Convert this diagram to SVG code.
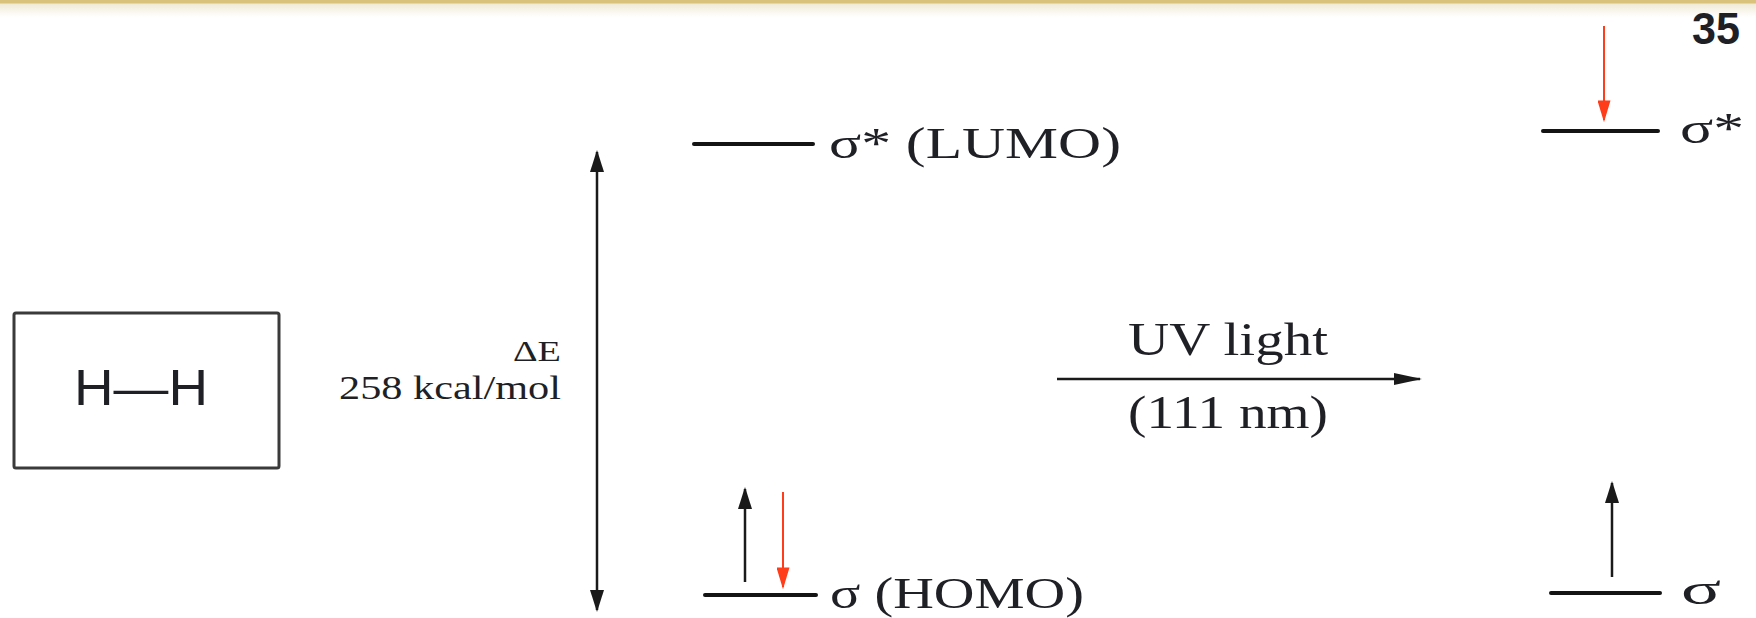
<svg xmlns="http://www.w3.org/2000/svg" width="1756" height="618" viewBox="0 0 1756 618">
  <defs>
    <linearGradient id="hdr" x1="0" y1="0" x2="0" y2="1">
      <stop offset="0" stop-color="#efe9d2"/>
      <stop offset="1" stop-color="#ffffff"/>
    </linearGradient>
    <marker id="headK" viewBox="0 0 22 14" refX="20" refY="7" markerWidth="22" markerHeight="14" markerUnits="userSpaceOnUse" orient="auto-start-reverse">
      <path d="M0,0 L22,7 L0,14 z" fill="#1a1a1a"/>
    </marker>
    <marker id="headUV" viewBox="0 0 28 12" refX="26" refY="6" markerWidth="28" markerHeight="12" markerUnits="userSpaceOnUse" orient="auto">
      <path d="M0,0 L28,6 L0,12 z" fill="#1a1a1a"/>
    </marker>
    <marker id="headR" viewBox="0 0 20 12" refX="18" refY="6" markerWidth="22" markerHeight="13" markerUnits="userSpaceOnUse" orient="auto">
      <path d="M0,0 L20,6 L0,12 z" fill="#ff3d1a"/>
    </marker>
  </defs>
  <style>
    .serif { font-family: "Liberation Serif", "Times New Roman", serif; fill: #1f1f26; }
    .sans { font-family: "Liberation Sans", Arial, sans-serif; fill: #1f1f26; }
    .level { stroke: #141414; stroke-width: 4; stroke-linecap: round; }
    .kline { stroke: #1a1a1a; stroke-width: 2.5; fill: none; }
    .rline { stroke: #ff3d1a; stroke-width: 2; fill: none; }
  </style>
  <rect x="0" y="0" width="1756" height="618" fill="#ffffff"/>
  <rect x="0" y="3" width="1756" height="14" fill="url(#hdr)"/>
  <rect x="0" y="0" width="1756" height="3.5" fill="#d9c27c"/>

  <text class="sans" x="1692" y="44" font-size="44" font-weight="bold" fill="#000" textLength="48" lengthAdjust="spacingAndGlyphs">35</text>

  <g id="molecule">
    <rect x="14" y="313" width="265" height="155" rx="2" fill="none" stroke="#3a3a3a" stroke-width="3"/>
    <text class="sans" x="141" y="405" font-size="50" text-anchor="middle" textLength="134" lengthAdjust="spacingAndGlyphs">H—H</text>
  </g>

  <g id="energy-label">
    <text class="serif" x="561" y="361" font-size="30" text-anchor="end" textLength="48" lengthAdjust="spacingAndGlyphs">ΔE</text>
    <text class="serif" x="561" y="399" font-size="33" text-anchor="end" textLength="222" lengthAdjust="spacingAndGlyphs">258 kcal/mol</text>
  </g>

  <g id="lumo">
    <line class="level" x1="694" y1="144" x2="813" y2="144"/>
    <text class="serif" x="829" y="158" font-size="45" textLength="292" lengthAdjust="spacingAndGlyphs">σ* (LUMO)</text>
  </g>

  <g id="homo">
    <line class="level" x1="705" y1="595" x2="816" y2="595"/>
    <text class="serif" x="830" y="608" font-size="45" textLength="254" lengthAdjust="spacingAndGlyphs">σ (HOMO)</text>
  </g>

  <g id="uv-label">
    <text class="serif" x="1128" y="355" font-size="46" textLength="200" lengthAdjust="spacingAndGlyphs">UV light</text>
    <text class="serif" x="1128" y="428" font-size="46" textLength="200" lengthAdjust="spacingAndGlyphs">(111 nm)</text>
  </g>

  <g id="excited-sigma-star">
    <line class="level" x1="1543" y1="131" x2="1658" y2="131"/>
    <text class="serif" x="1680" y="143" font-size="45" textLength="64" lengthAdjust="spacingAndGlyphs">σ*</text>
  </g>

  <g id="excited-sigma">
    <line class="level" x1="1551" y1="593" x2="1660" y2="593"/>
    <text class="serif" x="1681" y="604" font-size="45" textLength="40" lengthAdjust="spacingAndGlyphs">σ</text>
  </g>

  <g id="connectors">
    <line class="kline" x1="597" y1="152" x2="597" y2="610" marker-start="url(#headK)" marker-end="url(#headK)"/>
    <line class="kline" x1="1057" y1="379" x2="1420" y2="379" marker-end="url(#headUV)"/>
    <line class="kline" x1="745" y1="582" x2="745" y2="489" marker-end="url(#headK)"/>
    <line class="rline" x1="783" y1="492" x2="783" y2="587" marker-end="url(#headR)"/>
    <line class="rline" x1="1604" y1="26" x2="1604" y2="120" marker-end="url(#headR)"/>
    <line class="kline" x1="1612" y1="577" x2="1612" y2="483" marker-end="url(#headK)"/>
  </g>
</svg>
